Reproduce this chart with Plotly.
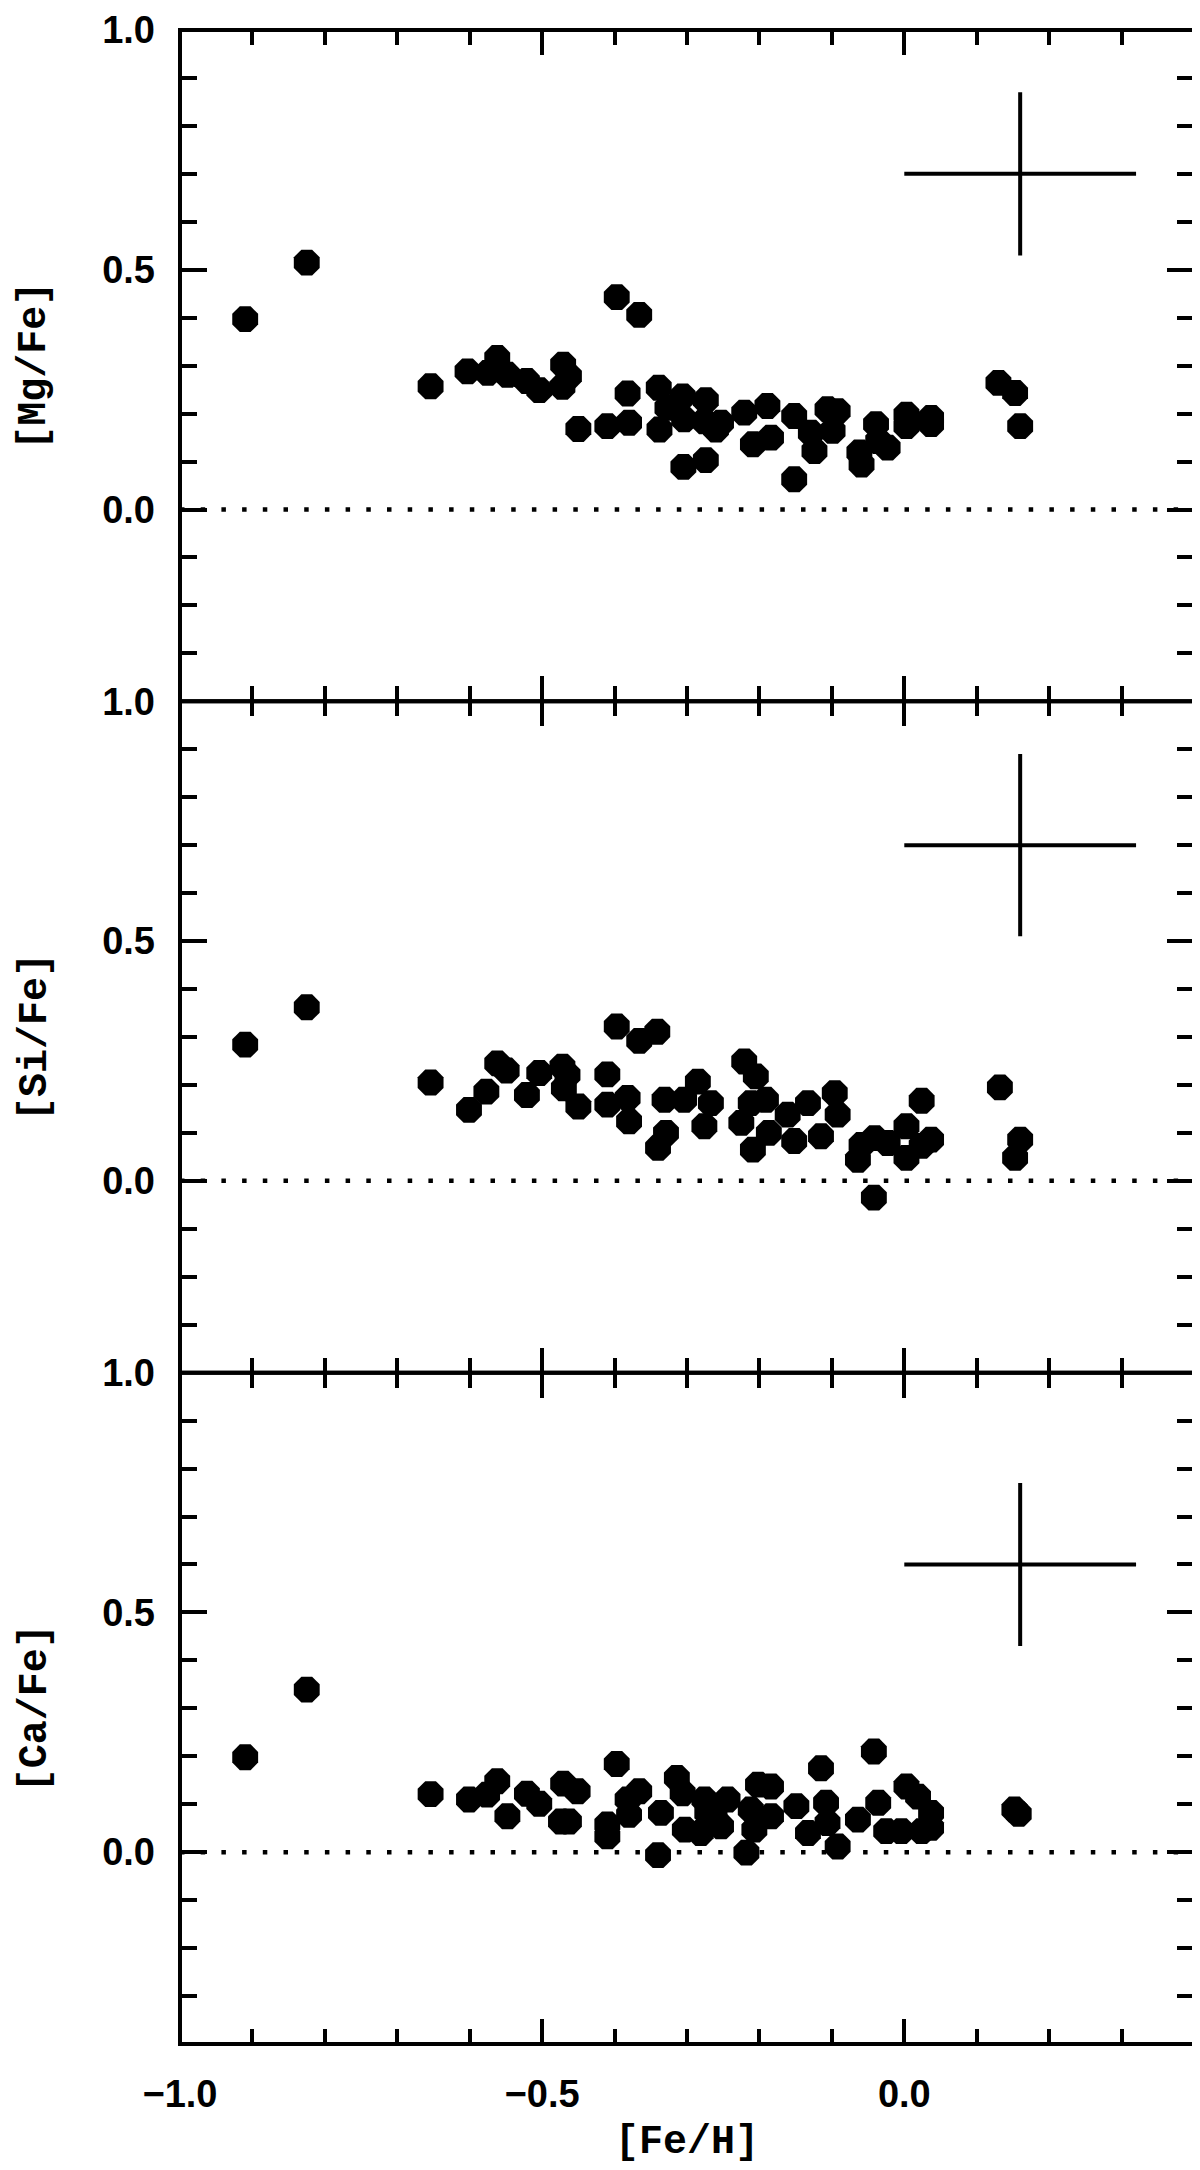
import plotly.graph_objects as go
from plotly.subplots import make_subplots

# ---- data --------------------------------------------------------------------
FEH_MG = [-0.910, -0.825, -0.654, -0.603, -0.575, -0.562, -0.548, -0.521, -0.504,
          -0.471, -0.463, -0.472, -0.450, -0.397, -0.366, -0.410, -0.380, -0.382,
          -0.339, -0.338, -0.305, -0.274, -0.327, -0.306, -0.274, -0.304, -0.276,
          -0.260, -0.253, -0.221, -0.189, -0.209, -0.184, -0.152, -0.152, -0.129,
          -0.124, -0.106, -0.092, -0.099, -0.039, -0.062, -0.059, -0.036, -0.023,
          0.003, 0.003, 0.037, 0.037, 0.130, 0.153, 0.160]
MG_FE = [0.397, 0.515, 0.257, 0.288, 0.285, 0.316, 0.281, 0.268, 0.249,
         0.302, 0.278, 0.256, 0.168, 0.443, 0.406, 0.174, 0.181, 0.242,
         0.254, 0.167, 0.089, 0.103, 0.212, 0.236, 0.228, 0.188, 0.184,
         0.167, 0.181, 0.202, 0.216, 0.136, 0.150, 0.195, 0.063, 0.160,
         0.122, 0.209, 0.205, 0.164, 0.178, 0.119, 0.094, 0.143, 0.129,
         0.198, 0.174, 0.191, 0.178, 0.264, 0.243, 0.174]

FEH_SI = [-0.910, -0.825, -0.654, -0.601, -0.577, -0.562, -0.549, -0.521, -0.504,
          -0.472, -0.465, -0.470, -0.450, -0.410, -0.397, -0.366, -0.341, -0.410,
          -0.382, -0.380, -0.340, -0.329, -0.331, -0.285, -0.304, -0.276, -0.267,
          -0.221, -0.205, -0.191, -0.212, -0.225, -0.209, -0.187, -0.161, -0.152,
          -0.133, -0.115, -0.096, -0.092, -0.064, -0.059, -0.041, -0.023, -0.042,
          0.024, 0.003, 0.003, 0.037, 0.024, 0.132, 0.160, 0.153]
SI_FE = [0.284, 0.362, 0.205, 0.148, 0.186, 0.245, 0.230, 0.179, 0.225,
         0.238, 0.221, 0.193, 0.155, 0.222, 0.322, 0.292, 0.311, 0.159,
         0.173, 0.124, 0.069, 0.100, 0.169, 0.207, 0.169, 0.114, 0.162,
         0.249, 0.218, 0.169, 0.162, 0.121, 0.065, 0.100, 0.138, 0.083,
         0.162, 0.093, 0.183, 0.138, 0.044, 0.075, 0.089, 0.079, -0.035,
         0.167, 0.114, 0.048, 0.086, 0.073, 0.195, 0.086, 0.048]

FEH_CA = [-0.910, -0.825, -0.654, -0.601, -0.576, -0.562, -0.548, -0.521, -0.504,
          -0.471, -0.451, -0.474, -0.463, -0.397, -0.410, -0.410, -0.382, -0.366,
          -0.380, -0.340, -0.314, -0.306, -0.336, -0.303, -0.281, -0.276, -0.262,
          -0.272, -0.244, -0.253, -0.202, -0.184, -0.218, -0.207, -0.212, -0.184,
          -0.149, -0.133, -0.115, -0.108, -0.106, -0.092, -0.064, -0.036, -0.042,
          -0.025, 0.003, 0.019, -0.004, 0.024, 0.037, 0.037, 0.152, 0.158]
CA_FE = [0.198, 0.339, 0.121, 0.110, 0.120, 0.148, 0.075, 0.122, 0.101,
         0.143, 0.127, 0.064, 0.064, 0.184, 0.058, 0.033, 0.110, 0.127,
         0.078, -0.006, 0.155, 0.123, 0.082, 0.047, 0.040, 0.110, 0.075,
         0.082, 0.110, 0.054, 0.141, 0.137, -0.001, 0.047, 0.089, 0.075,
         0.096, 0.040, 0.175, 0.103, 0.061, 0.012, 0.068, 0.103, 0.210,
         0.044, 0.137, 0.116, 0.044, 0.044, 0.082, 0.051, 0.089, 0.080]

# typical error bar shown in the upper right of each panel
ERR_X = [0.16, 0.16, 0.16]
ERR_Y = [0.70, 0.70, 0.60]
ERR_DX = [0.16, 0.16, 0.16]
ERR_DY = [0.17, 0.19, 0.17]

YLABELS = ["[Mg/Fe]", "[Si/Fe]", "[Ca/Fe]"]

# ---- style -------------------------------------------------------------------
INK = "black"
TICKFONT = dict(family="Liberation Sans, Arial, sans-serif", size=38,
                color=INK, weight="bold")
TITLEFONT = dict(family="Liberation Mono, Courier New, monospace", size=40,
                 color=INK, weight="bold")
LW = 4

panels = [(FEH_MG, MG_FE), (FEH_SI, SI_FE), (FEH_CA, CA_FE)]

fig = make_subplots(rows=3, cols=1, shared_xaxes=True, vertical_spacing=0)

for i, (fx, fy) in enumerate(panels):
    row = i + 1
    sfx = "" if row == 1 else str(row)
    fig.add_trace(go.Scatter(
        x=fx, y=fy, mode="markers",
        marker=dict(symbol="octagon", size=28, color=INK, line=dict(width=0)),
        showlegend=False, hoverinfo="skip"), row=row, col=1)
    fig.add_trace(go.Scatter(
        x=[ERR_X[i]], y=[ERR_Y[i]], mode="markers",
        marker=dict(size=1, color="rgba(0,0,0,0)"),
        error_x=dict(type="data", array=[ERR_DX[i]], width=0, thickness=4, color=INK),
        error_y=dict(type="data", array=[ERR_DY[i]], width=0, thickness=4, color=INK),
        showlegend=False, hoverinfo="skip"), row=row, col=1)
    # solar-ratio reference line
    fig.add_hline(y=0, row=row, col=1,
                  line=dict(color=INK, width=4.5, dash="4.5px,16.2px"))
    # frame drawn as a shape so the shared panel borders do not double up
    fig.add_shape(type="rect", xref=f"x{sfx} domain", yref=f"y{sfx} domain",
                  x0=0, x1=1, y0=0, y1=1, line=dict(color=INK, width=LW),
                  layer="above")
    fig.add_annotation(text=YLABELS[i], textangle=-90, font=TITLEFONT,
                       xref="paper", x=0, xanchor="center", xshift=-145,
                       yref=f"y{sfx} domain", y=0.5, yanchor="middle",
                       showarrow=False)

fig.update_xaxes(range=[-1.0, 0.4], tick0=0, dtick=0.5, ticks="inside",
                 ticklen=25, tickwidth=LW, tickcolor=INK, mirror="allticks",
                 showline=False, showgrid=False, zeroline=False, automargin=False,
                 tickformat=".1f", tickfont=TICKFONT, showticklabels=False,
                 ticklabelstandoff=24, ticklabeloverflow="allow",
                 minor=dict(dtick=0.1, ticks="inside", ticklen=15,
                            tickwidth=LW, tickcolor=INK, showgrid=False))
fig.update_xaxes(showticklabels=True, row=3, col=1)
fig.update_yaxes(range=[-0.4, 1.0], tick0=0, dtick=0.5, ticks="inside",
                 ticklen=27, tickwidth=LW, tickcolor=INK, mirror="allticks",
                 showline=False, showgrid=False, zeroline=False, automargin=False,
                 tickformat=".1f", tickfont=TICKFONT, ticklabelstandoff=24,
                 ticklabeloverflow="allow",
                 minor=dict(dtick=0.1, ticks="inside", ticklen=17,
                            tickwidth=LW, tickcolor=INK, showgrid=False))

fig.add_annotation(text="[Fe/H]", font=TITLEFONT, xref="paper", x=0.5,
                   xanchor="center", yref="paper", y=0, yanchor="middle",
                   yshift=-98, showarrow=False)

# the page body adds an 8px offset, so the margins are trimmed to compensate
fig.update_layout(
    width=1200, height=2170,
    margin=dict(l=172, r=14, t=22, b=134, autoexpand=False),
    paper_bgcolor="white", plot_bgcolor="white",
    font=dict(family="Liberation Sans, Arial, sans-serif", color=INK),
)

fig.write_html("out.html")
